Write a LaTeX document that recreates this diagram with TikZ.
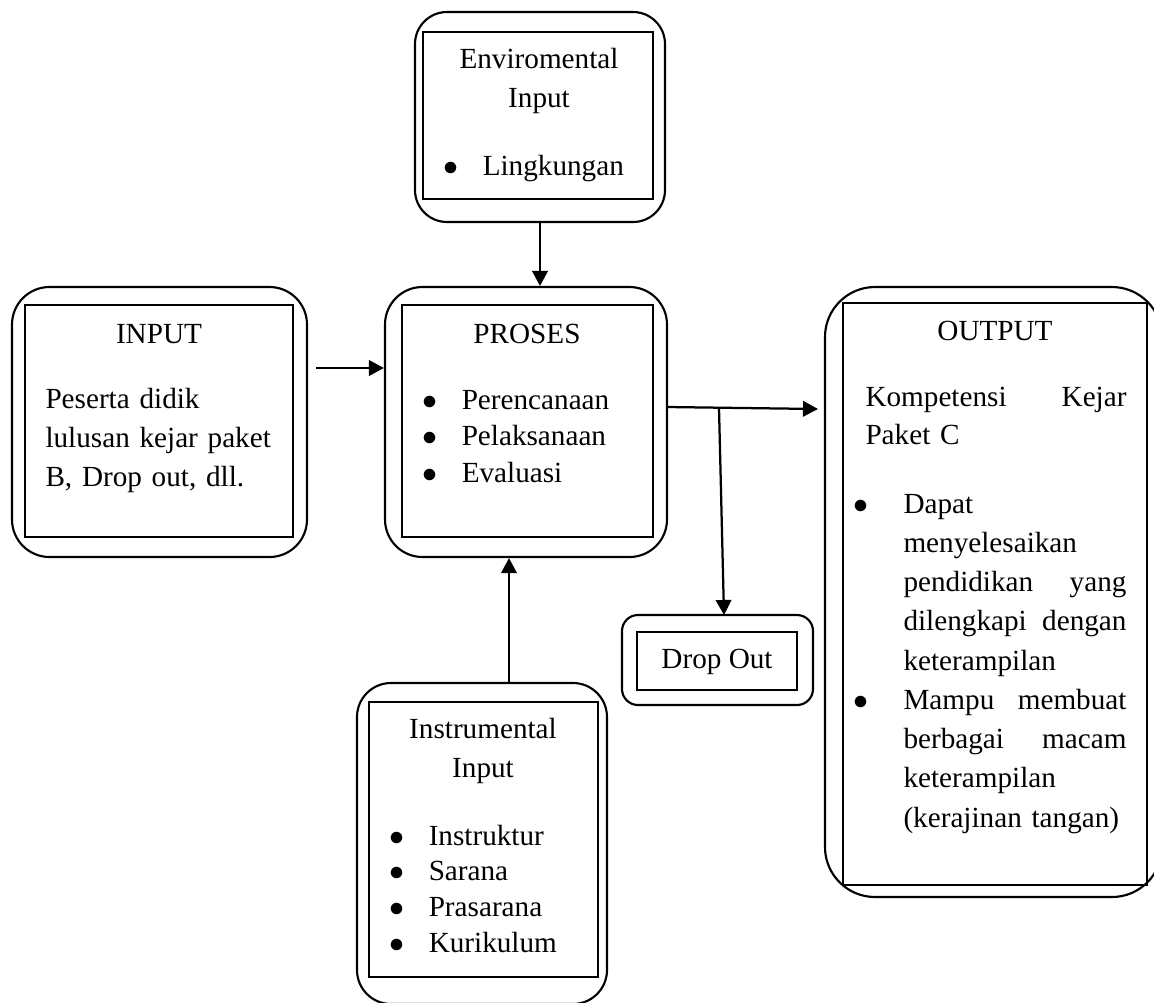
\documentclass[tikz,border=0pt]{standalone}
\usepackage{fontspec}
\setmainfont{Liberation Serif}
\usetikzlibrary{arrows.meta,fit}
\newcommand{\twobox}[4]{
  \node [roundbox=#4, fit={#2}] (#1O) {};
  \node [squarebox, fit={#3}] (#1I) {};
}
\newcommand{\jl}[2]{\leavevmode\hbox to \linewidth{#1\hfill #2}}
\newcommand{\bul}[1]{\makebox[#1][l]{$\bullet$}}

\begin{document}
\begin{tikzpicture}[x=0.4pt, y=-0.4pt,
  roundbox/.style={draw, line width=0.85pt, rounded corners=#1, inner sep=0pt},
  squarebox/.style={draw, line width=1pt, inner sep=0pt},
  txt/.style={font=\fontsize{11.68}{#1}\selectfont, inner sep=0pt},
  txt/.default=15.6pt,
  arr/.style={-{Triangle[length=6pt,width=6.2pt]}, line width=0.9pt}]
\useasboundingbox (0,0) rectangle (1154,1002);
\clip (0,0) rectangle (1154,1002);
% boxes
\twobox{env}{(415,12) (665,222)}{(423,32) (653,199)}{12.8pt}
\twobox{inp}{(12,287) (307,557)}{(25,305) (293,537)}{15pt}
\twobox{pro}{(385,287) (667,557)}{(402,305) (653,537)}{15pt}
\twobox{out}{(825,287) (1162,897)}{(843,303) (1147,885)}{20pt}
\twobox{drop}{(622,615) (813,705)}{(637,632) (797,690)}{6.4pt}
\twobox{ins}{(357,683) (607,1004)}{(369,702) (598,977)}{13.6pt}
% environmental input
\node [txt, text width=80pt, align=center, anchor=base] (envT) at (539,68) {Enviromental\\Input};
\node [txt, anchor=base west] (envL) at (443,175) {\bul{15.7pt}Lingkungan};
% input
\node [txt, anchor=base] (inpT) at (159,343) {INPUT};
\node [txt, text width=100pt, align=left, anchor=base west] (inpB) at (45,408)
  {Peserta didik\\lulusan kejar paket\\B, Drop out, dll.};
% proses
\node [txt, anchor=base] (proT) at (527,343) {PROSES};
\foreach \t [count=\i from 0] in {Perencanaan, Pelaksanaan, Evaluasi}
  \node [txt, anchor=base west] (proL\i) at (422,409+36.5*\i) {\bul{15.7pt}\t};
% output
\node [txt, anchor=base] (outT) at (995,340) {OUTPUT};
\node [txt=15.2pt, text width=104.4pt, align=left, anchor=base west] (outK) at (865,406)
  {\jl{Kompetensi}{Kejar}\\Paket C};
\node [txt=15.7pt, text width=89.2pt, align=left, anchor=base west] (outL) at (903,513)
  {\leavevmode\llap{\bul{20.1pt}}Dapat\\menyelesaikan\\\jl{pendidikan}{yang}\\\jl{dilengkapi}{dengan}\\
   keterampilan\\\leavevmode\llap{\bul{20.1pt}}\jl{Mampu}{membuat}\\\jl{berbagai}{macam}\\
   keterampilan\\(kerajinan tangan)};
% drop out
\node [txt, anchor=base] (dropT) at (717,668) {Drop Out};
% instrumental input
\node [txt, text width=80pt, align=center, anchor=base] (insT) at (483,738) {Instrumental\\Input};
\foreach \t [count=\i from 0] in {Instruktur, Sarana, Prasarana, Kurikulum}
  \node [txt, anchor=base west] (insL\i) at (389,845+35.7*\i) {\bul{15.7pt}\t};
% arrows
\draw [arr] (envO.south) -- (envO.south |- proO.north);
\coordinate (inpEnd) at (316,368);
\draw [arr] (inpEnd) -- (inpEnd -| proO.west);
\coordinate (proEnd) at (667,407);
\coordinate (split) at (719,408);
\coordinate (outEnd) at (818,409);
\coordinate (dropEnd) at (724,615);
\draw [arr] (proEnd) -- (outEnd);
\draw [arr] (split) -- (dropEnd);
\coordinate (insEnd) at (509,683);
\draw [arr] (insEnd) -- (insEnd |- proO.south);
\end{tikzpicture}
\end{document}
